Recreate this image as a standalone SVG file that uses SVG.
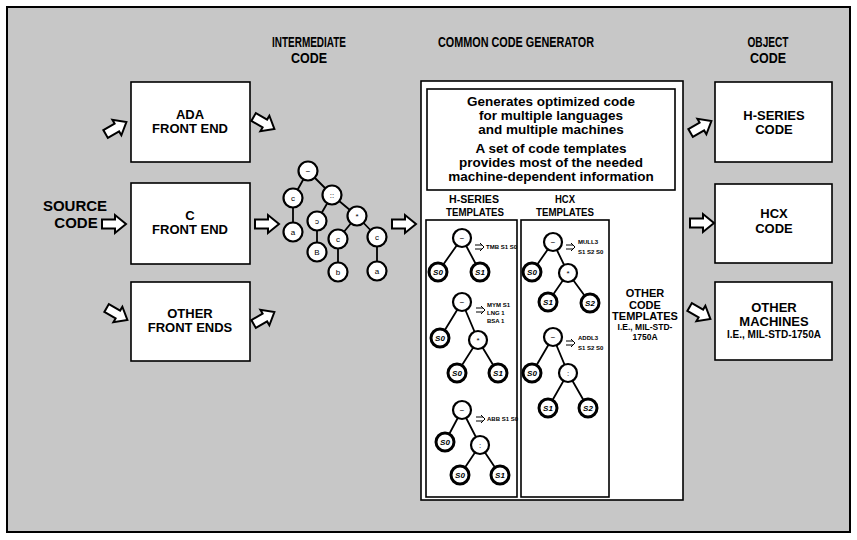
<svg xmlns="http://www.w3.org/2000/svg" xmlns:xlink="http://www.w3.org/1999/xlink" width="857" height="540" viewBox="0 0 857 540">
<defs>
<style>
text{font-family:"Liberation Sans",Arial,sans-serif;font-weight:bold;fill:#000;text-anchor:middle}
.box{fill:#fff;stroke:#000;stroke-width:1.6}
.ttl{font-size:15px}
.lbl{font-size:13px}
.hd{font-size:11.5px}
.desc{font-size:13.5px}
.sm{font-size:11px}
.tn{fill:#fff;stroke:#000;stroke-width:2.2}
.lf{fill:#fff;stroke:#000;stroke-width:3}
.ed{stroke:#000;stroke-width:1.8;fill:none}
.sym{font-size:8px;font-weight:normal}
.lt{font-size:8px;font-style:italic}
.ins{font-size:6px;text-anchor:start}
.arr{fill:#fff;stroke:#000;stroke-width:2;stroke-linejoin:miter}
</style>
<path id="arr" d="M-12,-4.5 H1 V-9 L12,0 L1,9 V4.5 H-12 Z"/>
<path id="dbl" d="M0,-2 H7 M0,2 H7 M5,-4 L9,0 L5,4" fill="none" stroke="#000" stroke-width="1"/>
</defs>
<rect x="0" y="0" width="857" height="540" fill="#fff"/>
<rect id="frame" x="7" y="7" width="843" height="525" fill="#c7c7c7" stroke="#000" stroke-width="2"/>

<g id="titles">
<text class="ttl" x="309" y="47" textLength="74" lengthAdjust="spacingAndGlyphs">INTERMEDIATE</text>
<text class="ttl" x="309" y="63" textLength="36" lengthAdjust="spacingAndGlyphs">CODE</text>
<text class="ttl" x="516" y="47" textLength="156" lengthAdjust="spacingAndGlyphs">COMMON CODE GENERATOR</text>
<text class="ttl" x="768" y="47" textLength="41" lengthAdjust="spacingAndGlyphs">OBJECT</text>
<text class="ttl" x="768" y="63" textLength="36" lengthAdjust="spacingAndGlyphs">CODE</text>
</g>

<g id="source">
<text x="75" y="211" style="font-size:15px">SOURCE</text>
<text x="76" y="228" style="font-size:15px">CODE</text>
</g>

<g id="ada"><rect class="box" x="131" y="82" width="119" height="80"/>
<text class="lbl" x="190" y="119">ADA</text><text class="lbl" x="190" y="133">FRONT END</text></g>
<g id="cfe"><rect class="box" x="131" y="183" width="119" height="81"/>
<text class="lbl" x="190" y="220">C</text><text class="lbl" x="190" y="234">FRONT END</text></g>
<g id="other-fe"><rect class="box" x="131" y="282" width="119" height="79"/>
<text class="lbl" x="190" y="318">OTHER</text><text class="lbl" x="190" y="332">FRONT ENDS</text></g>

<g id="intermediate-tree">
<path class="ed" d="M308,171 L293,198 M308,171 L332,195 M293,198 L293,232 M332,195 L317,221 M332,195 L357,216 M317,221 L317,252 M357,216 L338,239 M357,216 L377,237 M338,239 L338,272 M377,237 L377,271"/>
<circle class="tn" cx="308" cy="171" r="9.5"/><text class="sym" x="308" y="174">−</text>
<circle class="tn" cx="293" cy="198" r="9.5"/><text class="sym" x="293" y="201">c</text>
<circle class="tn" cx="332" cy="195" r="9.5"/><text class="sym" x="332" y="198">::</text>
<circle class="tn" cx="293" cy="232" r="9.5"/><text class="sym" x="293" y="235">a</text>
<circle class="tn" cx="317" cy="221" r="9.5"/><text class="sym" x="317" y="224">ɔ</text>
<circle class="tn" cx="357" cy="216" r="9.5"/><text class="sym" x="357" y="219">*</text>
<circle class="tn" cx="317" cy="252" r="9.5"/><text class="sym" x="317" y="255">B</text>
<circle class="tn" cx="338" cy="239" r="9.5"/><text class="sym" x="338" y="242">c</text>
<circle class="tn" cx="377" cy="237" r="9.5"/><text class="sym" x="377" y="240">c</text>
<circle class="tn" cx="338" cy="272" r="9.5"/><text class="sym" x="338" y="275">b</text>
<circle class="tn" cx="377" cy="271" r="9.5"/><text class="sym" x="377" y="274">a</text>
</g>

<g id="generator">
<rect class="box" x="421" y="81" width="262" height="419"/>
<rect class="box" x="427" y="89" width="248" height="101"/>
<text class="desc" x="551" y="106">Generates optimized code</text>
<text class="desc" x="551" y="120">for multiple languages</text>
<text class="desc" x="551" y="134">and multiple machines</text>
<text class="desc" x="551" y="153">A set of code templates</text>
<text class="desc" x="551" y="167">provides most of the needed</text>
<text class="desc" x="551" y="181">machine-dependent information</text>
<text class="hd" x="474" y="203" textLength="50" lengthAdjust="spacingAndGlyphs">H-SERIES</text>
<text class="hd" x="475" y="216" textLength="58" lengthAdjust="spacingAndGlyphs">TEMPLATES</text>
<text class="hd" x="565" y="203" textLength="20" lengthAdjust="spacingAndGlyphs">HCX</text>
<text class="hd" x="565" y="216" textLength="58" lengthAdjust="spacingAndGlyphs">TEMPLATES</text>
<text class="sm" x="645" y="297">OTHER</text>
<text class="sm" x="645" y="309">CODE</text>
<text class="sm" x="645" y="320">TEMPLATES</text>
<text style="font-size:8.5px" x="645" y="330">I.E., MIL-STD-</text>
<text style="font-size:8.5px" x="645" y="340">1750A</text>
</g>

<g id="hseries-templates">
<rect class="box" x="426" y="220" width="91" height="277"/>
<path class="ed" d="M462,238 L438,272 M462,238 L480,272"/>
<circle class="tn" cx="462" cy="238" r="9"/><text class="sym" x="462" y="241">−</text>
<circle class="lf" cx="438" cy="272" r="9"/><text class="lt" x="438" y="275">S0</text>
<circle class="lf" cx="480" cy="272" r="9"/><text class="lt" x="480" y="275">S1</text>
<use href="#dbl" x="475" y="247"/><text class="ins" x="486" y="249">TMB S1 S0</text>

<path class="ed" d="M462,302 L440,338 M462,302 L478,340 L457,373 M478,340 L498,373"/>
<circle class="tn" cx="462" cy="302" r="9"/><text class="sym" x="462" y="305">−</text>
<circle class="lf" cx="440" cy="338" r="9"/><text class="lt" x="440" y="341">S0</text>
<circle class="tn" cx="478" cy="340" r="9"/><text class="sym" x="478" y="343">*</text>
<circle class="lf" cx="457" cy="373" r="9"/><text class="lt" x="457" y="376">S0</text>
<circle class="lf" cx="498" cy="373" r="9"/><text class="lt" x="498" y="376">S1</text>
<use href="#dbl" x="476" y="310"/><text class="ins" x="487" y="307">MYM S1</text>
<text class="ins" x="487" y="315">LNG  1</text><text class="ins" x="487" y="323">BSA  1</text>

<path class="ed" d="M462,410 L445,442 M462,410 L480,445 L460,475 M480,445 L500,475"/>
<circle class="tn" cx="462" cy="410" r="9"/><text class="sym" x="462" y="413">−</text>
<circle class="lf" cx="445" cy="442" r="9"/><text class="lt" x="445" y="445">S0</text>
<circle class="tn" cx="480" cy="445" r="9"/><text class="sym" x="480" y="448">:</text>
<circle class="lf" cx="460" cy="475" r="9"/><text class="lt" x="460" y="478">S0</text>
<circle class="lf" cx="500" cy="475" r="9"/><text class="lt" x="500" y="478">S1</text>
<use href="#dbl" x="476" y="419"/><text class="ins" x="487" y="421">ABB S1 S0</text>
</g>

<g id="hcx-templates">
<rect class="box" x="521" y="220" width="88" height="277"/>
<path class="ed" d="M553,242 L532,272 M553,242 L568,273 L548,302 M568,273 L590,303"/>
<circle class="tn" cx="553" cy="242" r="9"/><text class="sym" x="553" y="245">−</text>
<circle class="lf" cx="532" cy="272" r="9"/><text class="lt" x="532" y="275">S0</text>
<circle class="tn" cx="568" cy="273" r="9"/><text class="sym" x="568" y="276">*</text>
<circle class="lf" cx="548" cy="302" r="9"/><text class="lt" x="548" y="305">S1</text>
<circle class="lf" cx="590" cy="303" r="9"/><text class="lt" x="590" y="306">S2</text>
<use href="#dbl" x="566" y="247"/><text class="ins" x="578" y="244">MULL3</text><text class="ins" x="578" y="254">S1 S2 S0</text>

<path class="ed" d="M553,337 L532,373 M553,337 L568,373 L548,408 M568,373 L588,408"/>
<circle class="tn" cx="553" cy="337" r="9"/><text class="sym" x="553" y="340">−</text>
<circle class="lf" cx="532" cy="373" r="9"/><text class="lt" x="532" y="376">S0</text>
<circle class="tn" cx="568" cy="373" r="9"/><text class="sym" x="568" y="376">:</text>
<circle class="lf" cx="548" cy="408" r="9"/><text class="lt" x="548" y="411">S1</text>
<circle class="lf" cx="588" cy="408" r="9"/><text class="lt" x="588" y="411">S2</text>
<use href="#dbl" x="566" y="343"/><text class="ins" x="578" y="340">ADDL3</text><text class="ins" x="578" y="350">S1 S2 S0</text>
</g>

<g id="hseries-code"><rect class="box" x="715" y="82" width="117" height="80"/>
<text class="lbl" x="774" y="120">H-SERIES</text><text class="lbl" x="774" y="134">CODE</text></g>
<g id="hcx-code"><rect class="box" x="715" y="184" width="117" height="79"/>
<text class="lbl" x="774" y="218">HCX</text><text class="lbl" x="774" y="233">CODE</text></g>
<g id="other-machines"><rect class="box" x="715" y="282" width="117" height="78"/>
<text class="lbl" x="774" y="312">OTHER</text><text class="lbl" x="774" y="326">MACHINES</text>
<text style="font-size:10px" x="774" y="338">I.E., MIL-STD-1750A</text></g>

<g id="connectors">
<use href="#arr" class="arr" transform="translate(116,128) rotate(-30)"/>
<use href="#arr" class="arr" transform="translate(114,224)"/>
<use href="#arr" class="arr" transform="translate(117,314) rotate(30)"/>
<use href="#arr" class="arr" transform="translate(264,123) rotate(30)"/>
<use href="#arr" class="arr" transform="translate(267,224)"/>
<use href="#arr" class="arr" transform="translate(264,318) rotate(-30)"/>
<use href="#arr" class="arr" transform="translate(404,224)"/>
<use href="#arr" class="arr" transform="translate(701,127) rotate(-30)"/>
<use href="#arr" class="arr" transform="translate(702,223)"/>
<use href="#arr" class="arr" transform="translate(700,313) rotate(30)"/>
</g>
</svg>
